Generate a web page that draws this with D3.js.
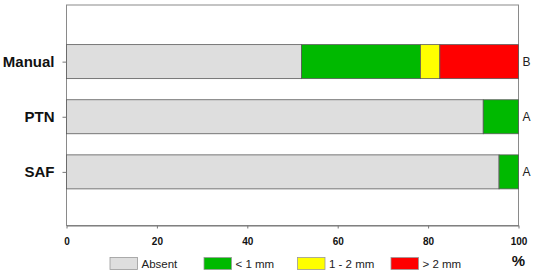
<!DOCTYPE html>
<html><head><meta charset="utf-8">
<script src="https://cdn.jsdelivr.net/npm/d3@7"></script>
<style>body{margin:0;background:#fff}svg{display:block;font-family:"Liberation Sans",Arial,sans-serif}</style>
</head><body><svg id="c" width="537" height="275"></svg>
<script>
const categories = ["Manual", "PTN", "SAF"];
const seriesNames = ["Absent", "< 1 mm", "1 - 2 mm", "> 2 mm"];
const absent = [52.0, 92.2, 95.7];
const lt1 = [26.3, 7.8, 4.3];
const mm12 = [4.3, 0, 0];
const gt2 = [17.4, 0, 0];
const letters = ["B", "A", "A"];
const xTicks = [0, 20, 40, 60, 80, 100];
const colors = ["#dedede", "#00b900", "#ffff00", "#ff0000"];

const svg = d3.select("#c");
const L = 66.5, R = 518.5, T = 5, B = 225.5;
const x = d3.scaleLinear().domain([0, 100]).range([L, R]);
const y = d3.scalePoint().domain(categories).range([6.5, 227]).padding(1);
const bh = 34;

// frame
svg.append("rect").attr("x", L).attr("y", T).attr("width", R - L).attr("height", B - T)
  .attr("fill", "none").attr("stroke", "#8a8a8a").attr("stroke-width", 1);

const series = [absent, lt1, mm12, gt2];
categories.forEach((c, i) => {
  let acc = 0;
  series.forEach((s, k) => {
    const v = s[i];
    if (v > 0) {
      svg.append("rect").attr("x", x(acc)).attr("y", y(c) - bh / 2)
        .attr("width", x(acc + v) - x(acc)).attr("height", bh)
        .attr("fill", colors[k]).attr("stroke", "#5a5a5a").attr("stroke-width", 0.8);
    }
    acc += v;
  });
  svg.append("text").attr("x", R + 4).attr("y", y(c)).attr("dy", "0.35em")
    .attr("font-size", 12).attr("fill", "#222").text(letters[i]);
});

// y axis
const ya = svg.append("g").attr("transform", `translate(${L},0)`)
  .call(d3.axisLeft(y).tickSize(4).tickPadding(8));
ya.select(".domain").remove();
ya.selectAll(".tick line").attr("stroke", "#777");
ya.selectAll(".tick text").attr("font-size", 15).attr("font-weight", "bold")
  .attr("fill", "#111").attr("font-family", "Liberation Sans, Arial, sans-serif");

// x axis
const xa = svg.append("g").attr("transform", `translate(0,${B})`)
  .call(d3.axisBottom(x).tickValues(xTicks).tickSize(3).tickPadding(9).tickSizeOuter(0));
xa.select(".domain").attr("stroke", "#777");
xa.selectAll(".tick line").attr("stroke", "#777");
xa.selectAll(".tick text").attr("font-size", 10).attr("font-weight", "bold")
  .attr("fill", "#111").attr("font-family", "Liberation Sans, Arial, sans-serif");

svg.append("text").attr("x", R).attr("y", 261).attr("dy", "0.35em").attr("text-anchor", "middle")
  .attr("font-size", 15).attr("font-weight", "bold").attr("fill", "#111").text("%");

// legend
const lx = [110, 204, 297.5, 391];
seriesNames.forEach((n, k) => {
  svg.append("rect").attr("x", lx[k]).attr("y", 257.5).attr("width", 27.5).attr("height", 12)
    .attr("fill", colors[k]).attr("stroke", "#999").attr("stroke-width", 0.8);
  svg.append("text").attr("x", lx[k] + 31.5).attr("y", 264).attr("dy", "0.35em")
    .attr("font-size", 11.5).attr("fill", "#222").text(n);
});
</script></body></html>
